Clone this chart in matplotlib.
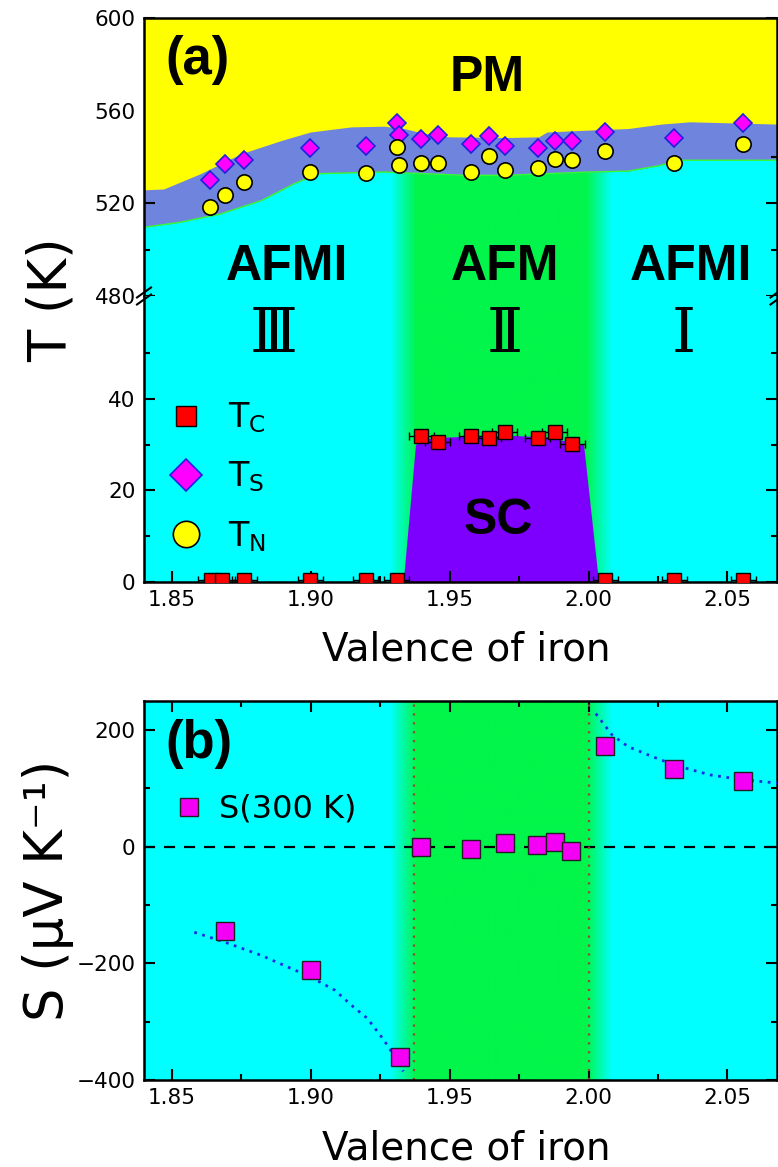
import numpy as np
import matplotlib
matplotlib.use("Agg")
import matplotlib.pyplot as plt
from matplotlib.colors import LinearSegmentedColormap
from matplotlib.ticker import MultipleLocator, FixedLocator, FormatStrFormatter
from matplotlib.lines import Line2D

# ---------------- data ----------------
x_ticks = [1.85, 1.90, 1.95, 2.00, 2.05]

valence_ts_tn = [1.8639, 1.8691, 1.8761, 1.8999, 1.9200, 1.9310, 1.9317, 1.9398, 1.9458,
                 1.9578, 1.9640, 1.9699, 1.9818, 1.9879, 1.9941, 2.0060, 2.0309, 2.0557]
t_s = [529.9, 537.1, 538.6, 543.9, 544.8, 554.7, 549.7, 547.7, 549.7,
       545.8, 549.0, 544.8, 543.8, 546.8, 546.8, 550.6, 548.0, 554.7]
t_n = [518.3, 523.4, 529.4, 533.5, 533.2, 544.3, 536.4, 537.4, 537.4,
       533.5, 540.4, 534.5, 535.4, 539.3, 538.6, 542.6, 537.4, 545.5]

valence_tc = [1.8641, 1.8682, 1.8761, 1.8999, 1.9198, 1.9310, 1.9398, 1.9458, 1.9578,
              1.9640, 1.9699, 1.9818, 1.9879, 1.9941, 2.0060, 2.0309, 2.0557]
t_c = [0.5, 0.5, 0.5, 0.5, 0.5, 0.5, 31.8, 30.5, 31.9,
       31.4, 32.7, 31.4, 32.8, 30.1, 0.5, 0.5, 0.5]
tc_xerr = 0.0045

# phase boundaries
pm_boundary_v = [1.8397, 1.8471, 1.8603, 1.8749, 1.8896, 1.8999, 1.9146, 1.9263, 1.9336, 1.9410,
                 1.9498, 1.9703, 1.9821, 1.9850, 1.9997, 2.0143, 2.0261, 2.0364, 2.0683]
pm_boundary_t = [525.8, 526.2, 532.8, 541.4, 547.2, 550.8, 553.0, 553.3, 552.3, 550.1,
                 548.7, 548.4, 548.7, 550.8, 551.6, 552.3, 554.2, 555.2, 554.2]
afm_boundary_v = [1.8397, 1.8529, 1.8676, 1.8823, 1.8940, 1.9028, 1.9263, 1.9557, 1.9703,
                  1.9850, 1.9997, 2.0143, 2.0261, 2.0320, 2.0683]
afm_boundary_t = [509.6, 511.8, 515.4, 521.2, 528.4, 532.8, 533.5, 532.1, 532.1,
                  532.8, 533.5, 533.9, 536.4, 538.6, 538.6]
sc_dome_v = [1.9333, 1.9377, 1.9410, 1.9498, 1.9600, 1.9703, 1.9850, 1.9982, 2.0036]
sc_dome_t = [0.0, 30.0, 31.3, 31.7, 31.9, 32.1, 31.7, 30.0, 0.0]

# thermopower
valence_s = [1.8690, 1.9000, 1.9320, 1.9398, 1.9578, 1.9699, 1.9816, 1.9879, 1.9938,
             2.0058, 2.0308, 2.0557]
s_300k = [-145, -212, -360, 0, -3, 6, 3, 8, -7, 173, 134, 113]

fit_left_v = [1.8581, 1.8691, 1.8823, 1.8999, 1.9087, 1.9146, 1.9204, 1.9263, 1.9322, 1.9333]
fit_left_s = [-146.6, -163.6, -186.4, -223.3, -246.0, -271.6, -294.3, -331.3, -373.9, -385.2]
fit_right_v = [2.0026, 2.0085, 2.0143, 2.0231, 2.0308, 2.0437, 2.0557, 2.0683]
fit_right_s = [228.4, 191.5, 171.6, 154.5, 140.3, 123.3, 114.8, 109.1]

region_boundaries = [1.9373, 2.000]
green_ramp_v = [1.9285, 1.9380, 1.9990, 2.0085]

# ---------------- style ----------------
CYAN = "#00FFFF"
GREEN = "#02F54A"
YELLOW = "#FFFF00"
BAND = "#6F84DD"
VIOLET = "#7D00FF"
XLIM = (1.84, 2.068)

plt.rcParams["font.family"] = ["DejaVu Sans"]
plt.rcParams["mathtext.fontset"] = "dejavusans"

W, H = 778, 1167
fig = plt.figure(figsize=(W / 100, H / 100), dpi=100)


def box(left, top, right, bottom):
    return [left / W, 1 - bottom / H, (right - left) / W, (bottom - top) / H]


ax_up = fig.add_axes(box(144, 18, 777.5, 296))
ax_lo = fig.add_axes(box(144, 296, 777.5, 582))
ax_b = fig.add_axes(box(144, 701, 777.5, 1080))

cmap_cg = LinearSegmentedColormap.from_list("cg", [CYAN, GREEN])


def band_background(ax, y0, y1):
    xs = np.linspace(XLIM[0], XLIM[1], 1500)
    w = np.interp(xs, green_ramp_v, [0, 1, 1, 0])
    ax.imshow(w[None, :], extent=[XLIM[0], XLIM[1], y0, y1], aspect="auto",
              cmap=cmap_cg, vmin=0, vmax=1, interpolation="bilinear",
              origin="lower", zorder=0)


# ---- panel (a) upper ----
band_background(ax_up, 480, 600)
ax_up.fill_between(afm_boundary_v, afm_boundary_t, 600, color=BAND, lw=0, zorder=1)
ax_up.plot(afm_boundary_v, afm_boundary_t, color="#30FF30", lw=1.0, zorder=1.5)
ax_up.fill_between(pm_boundary_v, pm_boundary_t, 600, color=YELLOW, lw=0, zorder=2)
ts_line, = ax_up.plot(valence_ts_tn, t_s, ls="none", marker="D", ms=9.5, mfc="#FF00FF",
                      mec="#2020E0", mew=1.2, zorder=5, label=r"T$_\mathregular{S}$")
tn_line, = ax_up.plot(valence_ts_tn, t_n, ls="none", marker="o", ms=11, mfc=YELLOW,
                      mec="black", mew=1.2, zorder=5, label=r"T$_\mathregular{N}$")
ax_up.set_ylim(480, 600)

# ---- panel (a) lower ----
band_background(ax_lo, 0, 62.5)
ax_lo.fill_between(sc_dome_v, 0, sc_dome_t, color=VIOLET, lw=0, zorder=1)
ax_lo.errorbar(valence_tc, t_c, xerr=tc_xerr, fmt="none", ecolor="black",
               elinewidth=1.0, capsize=3, capthick=1.0, zorder=4)
tc_line, = ax_lo.plot(valence_tc, t_c, ls="none", marker="s", ms=9.5, mfc="#FF0000",
                      mec="black", mew=1.0, zorder=5, label=r"T$_\mathregular{C}$")
ax_lo.set_ylim(0, 62.5)

# ---- panel (b) ----
band_background(ax_b, -400, 250)
ax_b.axhline(0, color="black", ls=(0, (5, 4)), lw=1.6, zorder=2)
for xv in region_boundaries:
    ax_b.axvline(xv, color="#9A4A30", ls=(0, (1, 3)), lw=1.6, zorder=2)
ax_b.plot(fit_left_v, fit_left_s, color="#1E2EE6", ls=(0, (1, 2)), lw=2.0, zorder=3)
ax_b.plot(fit_right_v, fit_right_s, color="#1E2EE6", ls=(0, (1, 2)), lw=2.0, zorder=3)
s_line, = ax_b.plot(valence_s, s_300k, ls="none", marker="s", ms=13.5, mfc="#F400F4",
                    mec="#202020", mew=1.0, zorder=5, label="S(300 K)")
ax_b.set_ylim(-400, 250)

# ---- axes styling ----
for ax in (ax_up, ax_lo, ax_b):
    ax.set_xlim(*XLIM)
    ax.xaxis.set_major_locator(FixedLocator(x_ticks))
    ax.xaxis.set_minor_locator(MultipleLocator(0.025))
    ax.xaxis.set_major_formatter(FormatStrFormatter("%.2f"))
    ax.tick_params(which="both", direction="in", top=True, right=True, width=1.5,
                   labelsize=15.5, pad=6)
    ax.tick_params(which="major", length=8)
    ax.tick_params(which="minor", length=4.5)
    for sp in ax.spines.values():
        sp.set_linewidth(1.8)

ax_up.yaxis.set_major_locator(FixedLocator([480, 520, 560, 600]))
ax_up.yaxis.set_minor_locator(FixedLocator([500, 540, 580]))
ax_up.spines["bottom"].set_visible(False)
ax_up.tick_params(which="both", bottom=False, labelbottom=False)

ax_lo.yaxis.set_major_locator(FixedLocator([0, 20, 40]))
ax_lo.yaxis.set_minor_locator(FixedLocator([10, 30, 50]))
ax_lo.spines["top"].set_visible(False)
ax_lo.tick_params(which="both", top=False)

ax_b.yaxis.set_major_locator(MultipleLocator(200))
ax_b.yaxis.set_minor_locator(MultipleLocator(100))

# axis labels
ax_lo.set_xlabel("Valence of iron", fontsize=28)
ax_lo.xaxis.set_label_coords(0.508, -0.275)
ax_lo.xaxis.label.set_va("baseline")
ax_b.set_xlabel("Valence of iron", fontsize=28)
ax_b.xaxis.set_label_coords(0.508, -0.211)
ax_b.xaxis.label.set_va("baseline")

ax_lo.set_ylabel("T (K)", fontsize=38)
ax_lo.yaxis.set_label_coords((52 - 144) / 633.5, (582 - 300) / 286)
ax_lo.yaxis.label.set_va("center")
ax_b.set_ylabel("S (μV K⁻¹)", fontsize=38)
ax_b.yaxis.set_label_coords((48 - 144) / 633.5, 0.5)
ax_b.yaxis.label.set_va("center")

# break marks
for xb in (144, 777.5):
    for dy in (-3.5, 3.5):
        y = 296 + dy
        fig.add_artist(Line2D([(xb - 7) / W, (xb + 7) / W], [1 - (y + 5) / H, 1 - (y - 5) / H],
                              color="black", lw=1.5))

# annotations
bold = dict(family="Liberation Sans", weight="bold", ha="center", va="center")
ax_up.text(0.0837, 0.849, "(a)", transform=ax_up.transAxes, fontsize=38, **bold)
ax_up.text(0.542, 0.784, "PM", transform=ax_up.transAxes, fontsize=36, **bold)
ax_up.text(0.226, 0.104, "AFMI", transform=ax_up.transAxes, fontsize=36, **bold)
ax_up.text(0.570, 0.104, "AFM", transform=ax_up.transAxes, fontsize=36, **bold)
ax_up.text(0.864, 0.104, "AFMI", transform=ax_up.transAxes, fontsize=36, **bold)
ax_lo.text(0.559, 0.214, "SC", transform=ax_lo.transAxes, fontsize=36, **bold)
ax_b.text(0.087, 0.887, "(b)", transform=ax_b.transAxes, fontsize=38, **bold)

roman = dict(family=["DejaVu Serif", "DejaVu Sans"], ha="center", va="center", fontsize=44)
ax_lo.text(0.205, 0.865, "Ⅲ", transform=ax_lo.transAxes, **roman)
ax_lo.text(0.569, 0.865, "Ⅱ", transform=ax_lo.transAxes, **roman)
ax_lo.text(0.852, 0.865, "Ⅰ", transform=ax_lo.transAxes, **roman)

# legends
leg_a = ax_lo.legend(handles=[tc_line, ts_line, tn_line], loc="upper left",
                     bbox_to_anchor=(0.027, 0.635), frameon=False, fontsize=24,
                     borderpad=0, borderaxespad=0, handlelength=1.5, handletextpad=0.5,
                     labelspacing=0.74)
for h, ms in zip(leg_a.legend_handles, (14, 16, 19)):
    h.set_markersize(ms)
leg_b = ax_b.legend(handles=[s_line], loc="upper left", bbox_to_anchor=(0.046, 0.755),
                    frameon=False, fontsize=23, borderpad=0, borderaxespad=0,
                    handlelength=1.0, handletextpad=0.45)

fig.savefig("out.png", dpi=100)
